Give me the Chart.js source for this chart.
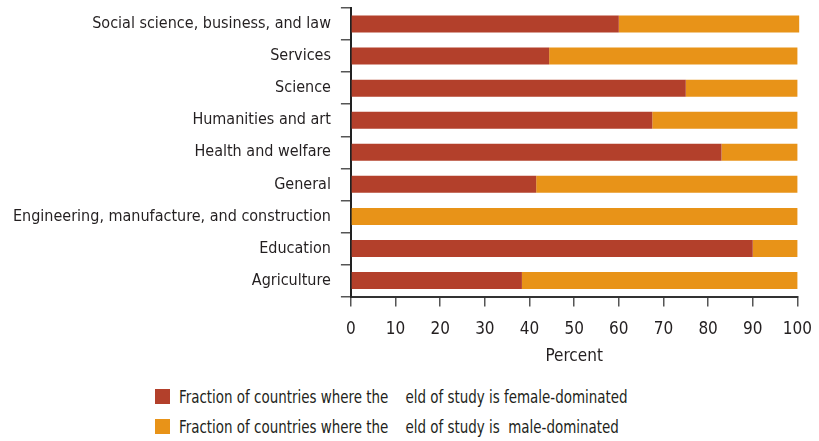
<!DOCTYPE html>
<html>
<head>
<meta charset="utf-8">
<script src="https://cdn.jsdelivr.net/npm/chart.js@4"></script>
<style>
    html, body { margin: 0; padding: 0; background: #fff; overflow: hidden; }
    #wrap { position: relative; width: 819px; height: 441px; overflow: hidden; }
    #chart { position: absolute; left: 0; top: -10px; }
    #legend {
        position: absolute; left: 155px; top: 381px;
        font-family: "DejaVu Sans Condensed", sans-serif;
        font-size: 18px; color: #231f20;
    }
    .item { display: flex; align-items: center; height: 30px; }
    .box { width: 15px; height: 15px; margin-right: 9px; flex: none; }
    .text { display: inline-block; transform: scaleX(0.83); transform-origin: left center; white-space: pre; }
</style>
</head>
<body>
<div id="wrap">
    <canvas id="chart" width="826" height="381"></canvas>
    <div id="legend"></div>
</div>
<script>
const fields = [
    'Social science, business, and law',
    'Services',
    'Science',
    'Humanities and art',
    'Health and welfare',
    'General',
    'Engineering, manufacture, and construction',
    'Education',
    'Agriculture'
];
const femaleDominated = [60, 44.4, 75, 67.5, 83, 41.5, 0, 90, 38.3];
const maleDominated = [40.4, 55.6, 25, 32.5, 17, 58.5, 100, 10, 61.7];
const seriesLabels = [
    'Fraction of countries where the    eld of study is female-dominated',
    'Fraction of countries where the    eld of study is  male-dominated'
];
const percentTicks = [0, 10, 20, 30, 40, 50, 60, 70, 80, 90, 100];

const RED = '#b3402b';
const ORANGE = '#e89318';
const FONT = '"DejaVu Sans Condensed", sans-serif';

const ctx = document.getElementById('chart').getContext('2d');

new Chart(ctx, {
    type: 'bar',
    data: {
        labels: fields,
        datasets: [{
            label: seriesLabels[0],
            data: femaleDominated,
            backgroundColor: RED,
            barPercentage: 0.53,
            categoryPercentage: 1,
            clip: false
        }, {
            label: seriesLabels[1],
            data: maleDominated,
            backgroundColor: ORANGE,
            barPercentage: 0.53,
            categoryPercentage: 1,
            clip: false
        }]
    },
    options: {
        indexAxis: 'y',
        responsive: false,
        animation: false,
        layout: { padding: { left: 3, right: 0, top: 0, bottom: 4 } },
        plugins: {
            legend: { display: false },
            tooltip: { enabled: false }
        },
        scales: {
            x: {
                stacked: true,
                min: 0,
                max: 100,
                afterBuildTicks: (axis) => {
                    axis.ticks = percentTicks.map(v => ({ value: v }));
                },
                border: { color: '#333', width: 2 },
                grid: {
                    drawOnChartArea: false,
                    color: '#555',
                    lineWidth: 1.5,
                    tickLength: 10
                },
                ticks: {
                    color: '#231f20',
                    font: { family: FONT, size: 17, lineHeight: 1 },
                    padding: 14,
                    maxRotation: 0
                },
                title: {
                    display: true,
                    text: 'Percent',
                    color: '#231f20',
                    font: { family: FONT, size: 17 },
                    padding: { top: -5, bottom: 0 }
                }
            },
            y: {
                stacked: true,
                border: { color: '#222', width: 2 },
                grid: {
                    drawOnChartArea: false,
                    color: '#555',
                    lineWidth: 1.5,
                    tickLength: 10
                },
                ticks: {
                    color: '#231f20',
                    font: { family: FONT, size: 16, lineHeight: 1 },
                    padding: 10
                }
            }
        }
    }
});

// legend below the chart, one series per row
const legend = document.getElementById('legend');
[RED, ORANGE].forEach((color, i) => {
    const row = document.createElement('div');
    row.className = 'item';
    const box = document.createElement('span');
    box.className = 'box';
    box.style.background = color;
    const text = document.createElement('span');
    text.className = 'text';
    text.textContent = seriesLabels[i];
    row.appendChild(box);
    row.appendChild(text);
    legend.appendChild(row);
});
</script>
</body>
</html>
